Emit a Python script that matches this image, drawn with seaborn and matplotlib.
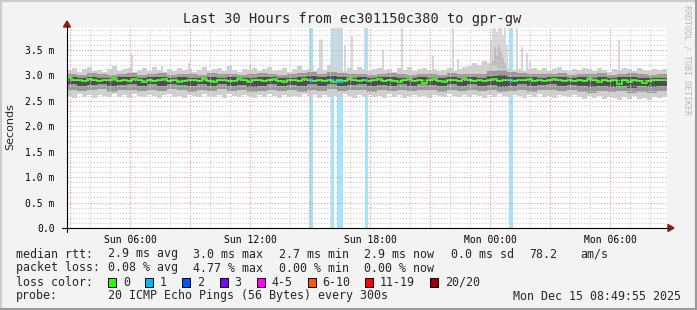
import matplotlib
matplotlib.use("Agg")
import matplotlib.pyplot as plt
import seaborn as sns
import numpy as np
import pandas as pd
from matplotlib.patches import Polygon, Rectangle
from matplotlib.lines import Line2D

# ---------------- data (hours since start = Sun 02:49:55) ----------------
title = "Last 30 Hours from ec301150c380 to gpr-gw"
x_tick_hours = [3.168, 9.168, 15.168, 21.168, 27.168]
x_tick_labels = ["Sun 06:00", "Sun 12:00", "Sun 18:00", "Mon 00:00", "Mon 06:00"]
y_tick_values = [0.0, 0.5, 1.0, 1.5, 2.0, 2.5, 3.0, 3.5]
y_tick_labels = ["0.0", "0.5 m", "1.0 m", "1.5 m", "2.0 m", "2.5 m", "3.0 m", "3.5 m"]

# median rtt (ms), one value per 15 minutes
median_ms = [
    2.95, 2.90, 2.91, 2.89, 2.92, 2.90, 2.88, 2.91, 2.90, 2.92,
    2.89, 2.91, 2.88, 2.92, 2.90, 2.87, 2.91, 2.89, 2.90, 2.92,
    2.88, 2.90, 2.86, 2.89, 2.91, 2.90, 2.88, 2.92, 2.89, 2.87,
    2.90, 2.91, 2.88, 2.89, 2.92, 2.90, 2.87, 2.90, 2.91, 2.88,
    2.90, 2.92, 2.89, 2.86, 2.90, 2.91, 2.88, 2.92, 2.90, 2.89,
    2.91, 2.88, 2.90, 2.87, 2.91, 2.89, 2.92, 2.90, 2.88, 2.91,
    2.89, 2.90, 2.92, 2.88, 2.91, 2.89, 2.86, 2.90, 2.92, 2.89,
    2.91, 2.84, 2.90, 2.92, 2.89, 2.87, 2.90, 2.91, 2.88, 2.92,
    2.90, 2.89, 2.91, 2.88, 2.90, 2.92, 2.89, 2.91, 2.90, 2.88,
    2.91, 2.90, 2.92, 2.89, 2.91, 2.88, 2.90, 2.92, 2.91, 2.89,
    2.90, 2.88, 2.91, 2.89, 2.92, 2.90, 2.87, 2.91, 2.89, 2.90,
    2.83, 2.91, 2.86, 2.90, 2.89, 2.85, 2.88, 2.90, 2.91, 2.90,
]

# outer smoke fringe (ms), one value per 15 minutes
outer_hi = [
    3.10, 3.14, 3.07, 3.12, 3.16, 3.09, 3.11, 3.06, 3.13, 3.18,
    3.08, 3.12, 3.15, 3.07, 3.10, 3.14, 3.09, 3.17, 3.11, 3.06,
    3.12, 3.08, 3.15, 3.10, 3.13, 3.07, 3.11, 3.16, 3.09, 3.12,
    3.14, 3.08, 3.19, 3.11, 3.07, 3.13, 3.10, 3.15, 3.08, 3.12,
    3.16, 3.09, 3.11, 3.14, 3.07, 3.12, 3.18, 3.10, 3.13, 3.08,
    3.15, 3.11, 3.20, 3.16, 3.12, 3.09, 3.14, 3.10, 3.17, 3.12,
    3.08, 3.13, 3.15, 3.10, 3.12, 3.07, 3.14, 3.11, 3.16, 3.09,
    3.12, 3.15, 3.10, 3.13, 3.08, 3.11, 3.14, 3.09, 3.12, 3.16,
    3.18, 3.24, 3.21, 3.28, 3.25, 3.19, 3.15, 3.12, 3.14, 3.10,
    3.13, 3.08, 3.12, 3.15, 3.10, 3.14, 3.09, 3.12, 3.16, 3.11,
    3.08, 3.13, 3.10, 3.15, 3.12, 3.09, 3.14, 3.11, 3.07, 3.13,
    3.10, 3.15, 3.12, 3.08, 3.14, 3.11, 3.09, 3.13, 3.10, 3.12,
]
outer_lo = [
    2.60, 2.56, 2.63, 2.58, 2.61, 2.55, 2.62, 2.59, 2.57, 2.64,
    2.58, 2.61, 2.56, 2.63, 2.59, 2.57, 2.62, 2.60, 2.55, 2.61,
    2.63, 2.58, 2.60, 2.56, 2.62, 2.59, 2.57, 2.64, 2.60, 2.58,
    2.61, 2.56, 2.63, 2.59, 2.57, 2.62, 2.60, 2.55, 2.61, 2.58,
    2.63, 2.59, 2.56, 2.62, 2.58, 2.60, 2.57, 2.63, 2.59, 2.61,
    2.56, 2.62, 2.58, 2.60, 2.57, 2.63, 2.59, 2.55, 2.61, 2.58,
    2.62, 2.57, 2.60, 2.56, 2.63, 2.58, 2.61, 2.55, 2.59, 2.62,
    2.58, 2.60, 2.56, 2.62, 2.59, 2.57, 2.63, 2.60, 2.58, 2.61,
    2.57, 2.62, 2.59, 2.56, 2.61, 2.58, 2.63, 2.60, 2.57, 2.62,
    2.59, 2.56, 2.61, 2.58, 2.63, 2.57, 2.60, 2.55, 2.62, 2.59,
    2.57, 2.61, 2.58, 2.54, 2.60, 2.56, 2.59, 2.53, 2.58, 2.55,
    2.52, 2.57, 2.54, 2.59, 2.53, 2.56, 2.52, 2.58, 2.55, 2.57,
]

# inner smoke bands (ms), one value per 30 minutes
mid_hi = [3.03, 3.01, 3.04, 3.02, 3.00, 3.03, 3.05, 3.01, 3.02, 3.04,
          3.01, 3.03, 3.02, 3.00, 3.04, 3.02, 3.03, 3.01, 3.02, 3.04,
          3.03, 3.00, 3.02, 3.04, 3.06, 3.03, 3.07, 3.05, 3.02, 3.03,
          3.01, 3.03, 3.04, 3.02, 3.01, 3.03, 3.02, 3.01, 3.04, 3.02,
          3.03, 3.02, 3.08, 3.10, 3.06, 3.04, 3.03, 3.02, 3.03, 3.04,
          3.01, 3.03, 3.02, 3.04, 3.01, 3.02, 3.04, 3.02, 3.00, 3.02]
mid_lo = [2.72, 2.69, 2.71, 2.73, 2.68, 2.71, 2.72, 2.70, 2.72, 2.69,
          2.73, 2.71, 2.68, 2.72, 2.70, 2.73, 2.69, 2.71, 2.67, 2.70,
          2.72, 2.69, 2.71, 2.68, 2.72, 2.70, 2.73, 2.69, 2.71, 2.72,
          2.68, 2.71, 2.70, 2.72, 2.69, 2.72, 2.71, 2.68, 2.72, 2.70,
          2.72, 2.69, 2.71, 2.67, 2.70, 2.72, 2.68, 2.71, 2.72, 2.69,
          2.71, 2.68, 2.66, 2.69, 2.67, 2.70, 2.65, 2.68, 2.66, 2.69]
core_hi = [2.97, 2.95, 2.96, 2.95, 2.94, 2.96, 2.97, 2.95, 2.96, 2.97,
           2.95, 2.96, 2.95, 2.94, 2.97, 2.95, 2.96, 2.95, 2.95, 2.97,
           2.96, 2.94, 2.95, 2.97, 2.98, 2.96, 2.98, 2.97, 2.95, 2.96,
           2.95, 2.96, 2.97, 2.95, 2.95, 2.96, 2.95, 2.95, 2.97, 2.95,
           2.96, 2.95, 2.99, 3.00, 2.97, 2.96, 2.96, 2.95, 2.96, 2.97,
           2.95, 2.96, 2.95, 2.97, 2.95, 2.96, 2.97, 2.95, 2.94, 2.95]
core_lo = [2.82, 2.80, 2.81, 2.83, 2.79, 2.81, 2.82, 2.80, 2.82, 2.80,
           2.83, 2.81, 2.79, 2.82, 2.80, 2.83, 2.80, 2.81, 2.78, 2.80,
           2.82, 2.80, 2.81, 2.79, 2.82, 2.80, 2.83, 2.80, 2.81, 2.82,
           2.79, 2.81, 2.80, 2.82, 2.80, 2.82, 2.81, 2.79, 2.82, 2.80,
           2.82, 2.80, 2.81, 2.78, 2.80, 2.82, 2.79, 2.81, 2.82, 2.80,
           2.81, 2.79, 2.77, 2.80, 2.78, 2.80, 2.76, 2.79, 2.77, 2.80]

# single high ping outliers (hour, top ms)
spike_hours = [3.25, 4.75, 6.10, 9.15, 12.30, 12.65, 12.75, 13.35, 13.45, 13.60,
               13.75, 13.90, 14.25, 14.90, 15.80, 16.75, 18.30, 19.30, 19.55,
               21.20, 21.30, 21.40, 21.50, 21.60, 21.70, 21.80, 21.90, 22.00,
               22.50, 22.75, 23.00, 23.15, 24.40, 27.60]
spike_tops = [3.42, 3.18, 3.25, 3.20, 3.20, 3.71, 3.69, 3.93, 3.93, 3.93,
              3.93, 3.60, 3.77, 3.93, 3.50, 3.93, 3.38, 3.93, 3.32,
              3.70, 3.93, 3.93, 3.85, 3.93, 3.93, 3.80, 3.93, 3.60,
              3.93, 3.55, 3.44, 3.28, 3.14, 3.69]
# medium-grey part of the outlier cluster (hour, top ms)
cluster_hours = [21.30, 21.40, 21.50, 21.60, 21.70, 21.80, 21.90]
cluster_tops = [3.30, 3.55, 3.40, 3.60, 3.45, 3.35, 3.25]

# packet loss periods (start hour, end hour, lost pings)
loss_start = [12.11, 13.21, 13.48, 14.88, 22.12]
loss_end = [12.28, 13.37, 13.80, 15.04, 22.29]
loss_count = [1, 1, 1, 1, 1]

loss_legend_labels = ["0", "1", "2", "3", "4-5", "6-10", "11-19", "20/20"]
loss_legend_colors = ["#26ff00", "#00b8ff", "#0059ff", "#7e00ff",
                      "#ff00ff", "#ff5500", "#ff0000", "#a10000"]

# ---------------- figure ----------------
W, H = 697, 310
sns.set_style("white")
plt.rcParams['font.family'] = ['DejaVu Sans Mono', 'DejaVu Sans']

fig = plt.figure(figsize=(W / 100, H / 100), dpi=100, facecolor='#F3F3F3')
ax = fig.add_axes([67 / W, (H - 228) / H, 600 / W, 200 / H])
ax.set_facecolor('white')
XMAX, YMAX = 30.0, 3.93
ax.set_xlim(0, XMAX)
ax.set_ylim(0, YMAX)
for s in ax.spines.values():
    s.set_visible(False)


def fx(x):
    return x / W


def fy(y):
    return 1 - y / H


def ext(v):
    return list(v) + [v[-1]]


# loss stripes
for a, b, c in zip(loss_start, loss_end, loss_count):
    ax.axvspan(a, b, color=loss_legend_colors[c], alpha=0.36, lw=0, zorder=1)

# smoke
outer_x = list(np.arange(len(outer_hi)) * 0.25) + [XMAX]
band_x = list(np.arange(len(mid_hi)) * 0.5) + [XMAX]
ax.vlines(spike_hours, 3.0, spike_tops, colors='#D4D4D4', lw=1.3, zorder=1.5)
ax.vlines(cluster_hours, 3.0, cluster_tops, colors='#BBBBBB', lw=1.3, zorder=1.6)
ax.fill_between(outer_x, ext(outer_lo), ext(outer_hi), step='post', color='#D0D0D0', lw=0, zorder=2)
ax.fill_between(band_x, ext(mid_lo), ext(mid_hi), step='post', color='#999999', lw=0, zorder=2.1)
ax.fill_between(band_x, ext(core_lo), ext(core_hi), step='post', color='#4E4E4E', lw=0, zorder=2.2)

# median line
med_df = pd.DataFrame({"hour": list(np.arange(len(median_ms)) * 0.25) + [XMAX],
                       "rtt": ext(median_ms)})
sns.lineplot(data=med_df, x="hour", y="rtt", ax=ax, color=loss_legend_colors[0],
             lw=1.4, drawstyle='steps-post', errorbar=None, zorder=3)
for a, b, c in zip(loss_start, loss_end, loss_count):
    i = int(a / 0.25)
    ax.hlines(median_ms[min(i, len(median_ms) - 1)], a, b,
              colors=loss_legend_colors[c], lw=1.6, zorder=3.1)

# grid (drawn above data, like rrdtool)
dot = (0, (1.2, 1.6))
for k in range(40):
    yv = round(k * 0.1, 2)
    if yv > YMAX:
        break
    major = abs(yv / 0.5 - round(yv / 0.5)) < 1e-6
    ax.axhline(yv, color='#E3A0A0' if major else '#CFCFCF', lw=0.75, ls=dot, zorder=4)
for k in range(31):
    xv = 0.168 + k
    if xv > XMAX:
        break
    ax.axvline(xv, color='#E3A0A0' if k % 3 == 0 else '#CFCFCF', lw=0.75, ls=dot, zorder=4)

# ticks / labels
ax.set_xticks(x_tick_hours)
ax.set_xticklabels(x_tick_labels)
ax.set_yticks(y_tick_values)
ax.set_yticklabels(y_tick_labels)
ax.tick_params(axis='both', length=0, labelsize=7, colors='#000000')
ax.tick_params(axis='y', pad=9)
ax.tick_params(axis='x', pad=5)
ax.set_xlabel("")
ax.set_ylabel("")

# axes lines + arrows
fig.add_artist(Line2D([fx(62), fx(668)], [fy(228), fy(228)], color='black', lw=0.8))
fig.add_artist(Line2D([fx(67), fx(67)], [fy(232), fy(26)], color='black', lw=0.8))
fig.add_artist(Polygon([(fx(63.5), fy(27)), (fx(70.5), fy(27)), (fx(67), fy(21))],
                       closed=True, color='#8B1A1A'))
fig.add_artist(Polygon([(fx(668), fy(224.5)), (fx(668), fy(231.5)), (fx(674), fy(228))],
                       closed=True, color='#8B1A1A'))

# texts
fig.text(fx(352), fy(19), title, ha='center', va='center', fontsize=9.8)
fig.text(fx(10), fy(127), "Seconds", rotation=90, ha='center', va='center',
         fontsize=8, family=['DejaVu Sans'])
fig.text(fx(687), fy(60), "RRDTOOL / TOBI OETIKER", rotation=270, ha='center', va='center',
         fontsize=6, color='#B8B8B8')

LF = 8.4
rows = {"rtt": 254, "loss": 268, "color": 282, "probe": 296}
fig.text(fx(16), fy(rows["rtt"]), "median rtt:", ha='left', va='center', fontsize=LF)
for xp, t in [(107.5, "2.9 ms avg"), (193, "3.0 ms max"), (279, "2.7 ms min"),
              (364.5, "2.9 ms now"), (451, "0.0 ms sd"), (529, "78.2"), (580, "am/s")]:
    fig.text(fx(xp), fy(rows["rtt"]), t, ha='left', va='center', fontsize=LF)
fig.text(fx(16), fy(rows["loss"]), "packet loss:", ha='left', va='center', fontsize=LF)
for xp, t in [(107.5, "0.08 % avg"), (193, "4.77 % max"), (279, "0.00 % min"),
              (364.5, "0.00 % now")]:
    fig.text(fx(xp), fy(rows["loss"]), t, ha='left', va='center', fontsize=LF)
fig.text(fx(16), fy(rows["color"]), "loss color:", ha='left', va='center', fontsize=LF)
box_x = [108, 145, 182, 219.5, 256.5, 307.5, 365, 430]
for bx, lab, col in zip(box_x, loss_legend_labels, loss_legend_colors):
    fig.add_artist(Rectangle((fx(bx), fy(rows["color"] + 4.5)), 8 / W, 9 / H,
                             facecolor=col, edgecolor='black', lw=0.7))
    fig.text(fx(bx + 15), fy(rows["color"]), lab, ha='left', va='center', fontsize=LF)
fig.text(fx(16), fy(rows["probe"]), "probe:", ha='left', va='center', fontsize=LF)
fig.text(fx(107.5), fy(rows["probe"]), "20 ICMP Echo Pings (56 Bytes) every 300s",
         ha='left', va='center', fontsize=LF)
fig.text(fx(681), fy(rows["probe"]), "Mon Dec 15 08:49:55 2025", ha='right', va='center',
         fontsize=LF)

# image frame
fig.add_artist(Line2D([0, 1], [1 - 0.5 / H, 1 - 0.5 / H], color='#CCCCCC', lw=1.5))
fig.add_artist(Line2D([0.5 / W, 0.5 / W], [0, 1], color='#CCCCCC', lw=1.5))
fig.add_artist(Line2D([0, 1], [1.0 / H, 1.0 / H], color='#9A9A9A', lw=1.5))
fig.add_artist(Line2D([1 - 1.0 / W, 1 - 1.0 / W], [0, 1], color='#9A9A9A', lw=1.5))

fig.savefig("out.png", dpi=100, facecolor=fig.get_facecolor())
